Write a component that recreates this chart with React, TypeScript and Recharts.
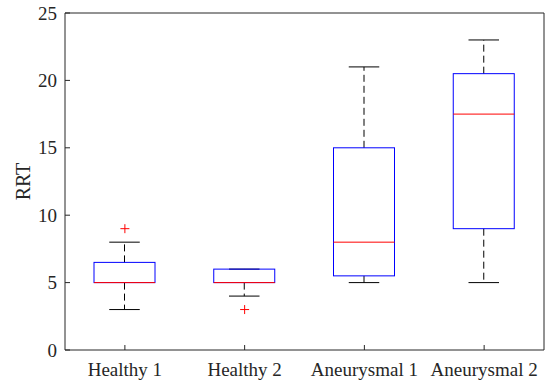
import { ComposedChart, Bar, Scatter, Line, XAxis, YAxis } from 'recharts'

const categories = ['Healthy 1', 'Healthy 2', 'Aneurysmal 1', 'Aneurysmal 2']
const mins = [3, 4, 5, 5]
const q1s = [5, 5, 5.5, 9]
const medians = [5, 5, 8, 17.5]
const q3s = [6.5, 6, 15, 20.5]
const maxs = [8, 6, 21, 23]
const outliers: (number | null)[] = [9, 3, null, null]
const yTicks = [0, 5, 10, 15, 20, 25]

const data = categories.map((name, i) => ({
  name,
  min: mins[i],
  q1: q1s[i],
  median: medians[i],
  q3: q3s[i],
  max: maxs[i],
  outlier: outliers[i],
}))

const AXIS = '#262626'
const FONT = "'Liberation Serif', 'Times New Roman', serif"

// whiskers, box and median drawn from the range bar's pixel extent (min..max)
function BoxShape(props: any) {
  const { x, y, width, height, payload } = props
  const { min, q1, median, q3, max } = payload
  const k = height / (max - min)
  const py = (v: number) => y + (max - v) * k
  const cx = x + width / 2
  const cap = width * 0.25
  return (
    <g>
      <line x1={cx} x2={cx} y1={py(q3)} y2={py(max)} stroke="#000" strokeDasharray="7 4" />
      <line x1={cx} x2={cx} y1={py(q1)} y2={py(min)} stroke="#000" strokeDasharray="7 4" />
      <line x1={cx - cap} x2={cx + cap} y1={py(max)} y2={py(max)} stroke="#000" />
      <line x1={cx - cap} x2={cx + cap} y1={py(min)} y2={py(min)} stroke="#000" />
      <rect x={x} y={py(q3)} width={width} height={py(q1) - py(q3)} fill="none" stroke="#0000ff" />
      <line x1={x} x2={x + width} y1={py(median)} y2={py(median)} stroke="#ff0000" />
    </g>
  )
}

function PlusShape(props: any) {
  const { cx, cy, payload } = props
  if (payload == null || payload.outlier == null) return <g />
  return (
    <g stroke="#ff0000" strokeWidth={1}>
      <line x1={cx - 4.5} x2={cx + 4.5} y1={cy} y2={cy} />
      <line x1={cx} x2={cx} y1={cy - 4.5} y2={cy + 4.5} />
    </g>
  )
}

function XTick(props: any) {
  const { x, y, payload } = props
  return (
    <text x={x} y={y} dy={13.5} textAnchor="middle" fill={AXIS} fontSize={19} style={{ fontFamily: FONT }}>
      {payload.value}
    </text>
  )
}

function YTick(props: any) {
  const { x, y, payload } = props
  return (
    <text x={x} y={y} dy={6.5} textAnchor="end" fill={AXIS} fontSize={19} style={{ fontFamily: FONT }}>
      {payload.value}
    </text>
  )
}

export default function App() {
  return (
    <div style={{ position: 'absolute', left: 0, top: 0, background: '#fff', fontFamily: FONT }}>
      <ComposedChart width={550} height={386} data={data} margin={{ top: 0, right: 0, bottom: 0, left: 0 }}>
        <XAxis
          xAxisId="bottom"
          dataKey="name"
          height={36}
          interval={0}
          stroke={AXIS}
          tickSize={-5}
          tickMargin={17}
          tick={<XTick />}
        />
        <XAxis
          xAxisId="top"
          dataKey="name"
          orientation="top"
          height={13}
          interval={0}
          stroke={AXIS}
          tickSize={-5}
          tick={false}
        />
        <YAxis
          yAxisId="left"
          width={65}
          domain={[0, 25]}
          ticks={yTicks}
          stroke={AXIS}
          tickSize={-5}
          tickMargin={13}
          tick={<YTick />}
          label={{ value: 'RRT', angle: -90, position: 'center', dx: -9.5, fill: AXIS, fontSize: 20, style: { fontFamily: FONT } }}
        />
        <YAxis
          yAxisId="right"
          orientation="right"
          width={6}
          domain={[0, 25]}
          ticks={yTicks}
          stroke={AXIS}
          tickSize={-5}
          tick={false}
        />
        <Bar
          xAxisId="bottom"
          yAxisId="left"
          dataKey={(d: any) => [d.min, d.max]}
          barSize={61}
          shape={BoxShape}
          isAnimationActive={false}
        />
        <Scatter
          xAxisId="bottom"
          yAxisId="left"
          dataKey="outlier"
          shape={PlusShape}
          isAnimationActive={false}
        />
        <Line
          xAxisId="top"
          yAxisId="right"
          dataKey="max"
          stroke="none"
          dot={false}
          activeDot={false}
          isAnimationActive={false}
        />
      </ComposedChart>
    </div>
  )
}
